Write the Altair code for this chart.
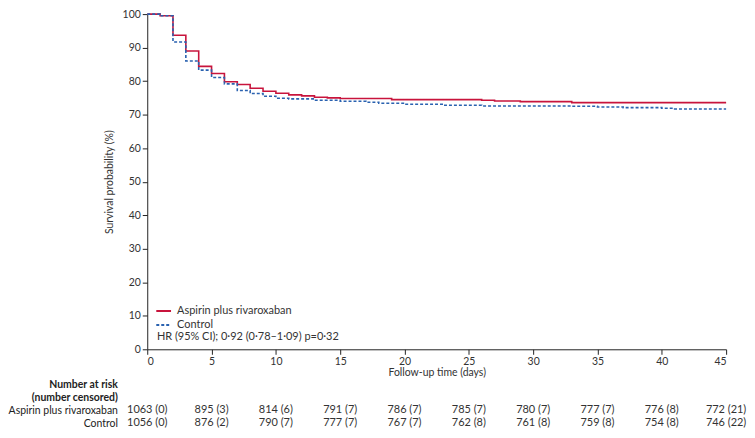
import altair as alt
import pandas as pd

# Kaplan-Meier step values
red_days = [0, 1, 2, 3, 4, 5, 6, 7, 8, 9, 10, 11, 12, 13, 14, 15, 19, 26, 27, 29, 33, 45]
red_surv = [100, 99.5, 93.7, 89.0, 84.4, 82.3, 79.8, 79.0, 77.9, 77.0, 76.4, 75.9, 75.6, 75.2,
            75.0, 74.8, 74.5, 74.3, 74.1, 73.9, 73.6, 73.6]
blue_days = [0, 1, 2, 3, 4, 5, 6, 7, 8, 9, 10, 11, 13, 15, 17, 18, 20, 23, 26, 33, 35, 37, 40, 41, 45]
blue_surv = [100, 99.5, 91.7, 86.0, 83.3, 81.1, 79.2, 77.2, 76.3, 75.5, 74.9, 74.7, 74.3, 74.0,
             73.7, 73.4, 73.1, 72.8, 72.6, 72.5, 72.3, 72.1, 71.9, 71.7, 71.7]

groups = ["Aspirin plus rivaroxaban", "Control"]
colors = ["#c8143c", "#2a62b0"]

# Number at risk table
risk_days = [0, 5, 10, 15, 20, 25, 30, 35, 40, 45]
risk_asp = ["1063 (0)", "895 (3)", "814 (6)", "791 (7)", "786 (7)", "785 (7)", "780 (7)",
            "777 (7)", "776 (8)", "772 (21)"]
risk_ctl = ["1056 (0)", "876 (2)", "790 (7)", "777 (7)", "767 (7)", "762 (8)", "761 (8)",
            "759 (8)", "754 (8)", "746 (22)"]
row_labels = ["Number at risk", "(number censored)", "Aspirin plus rivaroxaban", "Control"]

hr_text = "HR (95% CI); 0·92 (0·78–1·09) p=0·32"

FONT = "Lato"
W = 582
H = 337

df_curve = pd.concat([
    pd.DataFrame({"day": red_days, "surv": red_surv, "group": groups[0]}),
    pd.DataFrame({"day": blue_days, "surv": blue_surv, "group": groups[1]}),
])

xscale = alt.Scale(domain=[0, 45], nice=False, zero=False)
yscale = alt.Scale(domain=[0, 100], nice=False)

legend_cfg = dict(
    orient="none", legendX=8, legendY=290, title=None, symbolType="stroke",
    symbolSize=220, symbolStrokeWidth=2, labelFontSize=11, labelFont=FONT,
    labelColor="#333333", rowPadding=0, labelOffset=5,
)

axis_common = dict(grid=False, tickSize=5, labelPadding=2, labelOverlap=False,
                   labelFontSize=10.5, titleFontSize=10.5, titleFontWeight="normal",
                   labelColor="#333333", titleColor="#333333",
                   domainColor="#222222", tickColor="#222222", labelFont=FONT,
                   titleFont=FONT)

x_axis = alt.Axis(values=list(range(0, 46, 5)), title="Follow-up time (days)",
                  titlePadding=1, **axis_common)
y_axis = alt.Axis(values=list(range(0, 101, 10)), title="Survival probability (%)",
                  titlePadding=8, **axis_common)

lines = alt.Chart(df_curve).mark_line(interpolate="step-after", strokeWidth=1.6).encode(
    x=alt.X("day:Q", scale=xscale, axis=x_axis),
    y=alt.Y("surv:Q", scale=yscale, axis=y_axis),
    color=alt.Color("group:N", scale=alt.Scale(domain=groups, range=colors),
                    legend=alt.Legend(**legend_cfg)),
    strokeDash=alt.StrokeDash("group:N", scale=alt.Scale(domain=groups, range=[[1, 0], [3, 2]]),
                              legend=alt.Legend(**legend_cfg)),
    order=alt.Order("group:N", sort="ascending"),
)

hr = alt.Chart(pd.DataFrame({"t": [hr_text]})).mark_text(
    align="left", baseline="middle", fontSize=11, font=FONT, color="#333333"
).encode(
    x=alt.XDatum(0.75, scale=xscale, axis=x_axis),
    y=alt.YDatum(3.6, scale=yscale, axis=y_axis),
    text="t:N",
)

top = alt.layer(lines, hr).properties(width=W, height=H)

rows = []
for d, a, c in zip(risk_days, risk_asp, risk_ctl):
    rows.append({"day": d, "row": row_labels[2], "txt": a})
    rows.append({"day": d, "row": row_labels[3], "txt": c})
df_risk = pd.DataFrame(rows)

table = alt.Chart(df_risk).mark_text(
    align="center", baseline="middle", fontSize=11, font=FONT, color="#333333"
).encode(
    x=alt.X("day:Q", scale=xscale, axis=None),
    y=alt.Y("row:N", scale=alt.Scale(domain=row_labels, paddingInner=0, paddingOuter=0),
            axis=alt.Axis(title=None, ticks=False, domain=False, labelPadding=30,
                          labelFontSize=10.5, labelFont=FONT, labelColor="#222222",
                          labelFontWeight=alt.condition(
                              "datum.value == 'Number at risk' || datum.value == '(number censored)'",
                              alt.value("bold"), alt.value("normal")))),
    text="txt:N",
).properties(width=W, height=52)

chart = alt.vconcat(top, table, spacing=29, bounds="flush").properties(
    padding=0
).configure(font=FONT, view={"stroke": None, "strokeWidth": 0})

chart.save("out.html", embed_options={"renderer": "svg", "actions": False})
